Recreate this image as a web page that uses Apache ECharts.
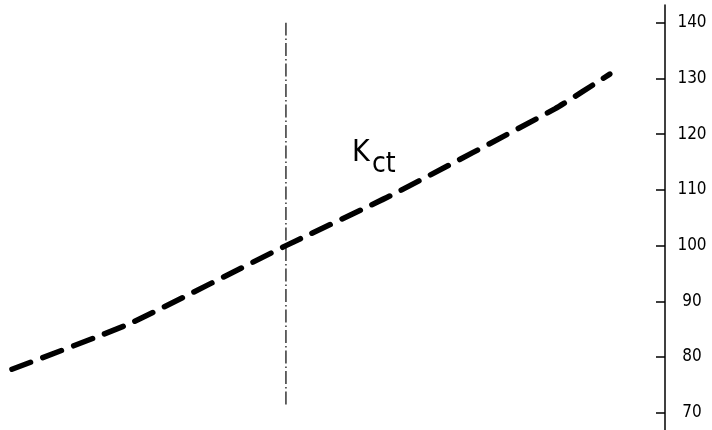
<!DOCTYPE html>
<html>
<head>
<meta charset="utf-8">
<script src="https://cdn.jsdelivr.net/npm/echarts@6/dist/echarts.min.js"></script>
<style>
  html, body { margin: 0; padding: 0; background: #fff; }
  #chart { width: 712px; height: 430px; }
</style>
</head>
<body>
<div id="chart"></div>
<script>
// Kct curve: horizontal position (arbitrary units, 0..100) and value
const kctX = [1.8, 19.5, 43, 58.6, 83.5, 91.7];
const kctY = [77.8, 86.0, 100, 108.9, 124.6, 130.8];

// Reference (dash-dot) vertical line position and its vertical extent
const refX = 43;
const refSpan = [71.5, 140];

// Right-hand scale tick values
const yTicks = [70, 80, 90, 100, 110, 120, 130, 140];

const FONT = "'Liberation Sans Narrow', 'DejaVu Sans Condensed', 'Liberation Sans', sans-serif";

const chart = echarts.init(document.getElementById('chart'), null, { renderer: 'canvas' });

chart.setOption({
  backgroundColor: '#ffffff',
  animation: false,
  grid: { left: 0, right: 47, top: 5, bottom: 0 },
  xAxis: {
    type: 'value',
    min: 0,
    max: 100,
    show: false
  },
  yAxis: {
    type: 'value',
    position: 'right',
    min: 66.9,
    max: 143.2,
    splitLine: { show: false },
    axisLine: { show: true, onZero: false, lineStyle: { color: '#000', width: 1.5 } },
    axisTick: {
      show: true,
      inside: true,
      length: 9,
      customValues: yTicks,
      lineStyle: { color: '#000', width: 1.5 }
    },
    axisLabel: {
      customValues: yTicks,
      margin: 27,
      align: 'center',
      color: '#000',
      fontSize: 17,
      fontFamily: FONT
    }
  },
  graphic: [
    {
      type: 'text',
      left: 352,
      top: 138,
      style: { text: 'K', fontSize: 30, fontFamily: FONT, fill: '#000' }
    },
    {
      type: 'text',
      left: 372,
      top: 151,
      style: { text: 'ct', fontSize: 28, fontFamily: FONT, fill: '#000' }
    }
  ],
  series: [
    {
      type: 'line',
      data: kctX.map((x, i) => [x, kctY[i]]),
      showSymbol: false,
      smooth: 0.15,
      lineStyle: {
        color: '#000',
        width: 5.5,
        type: [20, 13],
        cap: 'round'
      },
      z: 3
    },
    {
      type: 'line',
      data: refSpan.map(v => [refX, v]),
      showSymbol: false,
      lineStyle: {
        color: '#000',
        width: 1.2,
        type: [13, 3, 1.5, 3]
      },
      z: 2
    }
  ]
});
</script>
</body>
</html>
